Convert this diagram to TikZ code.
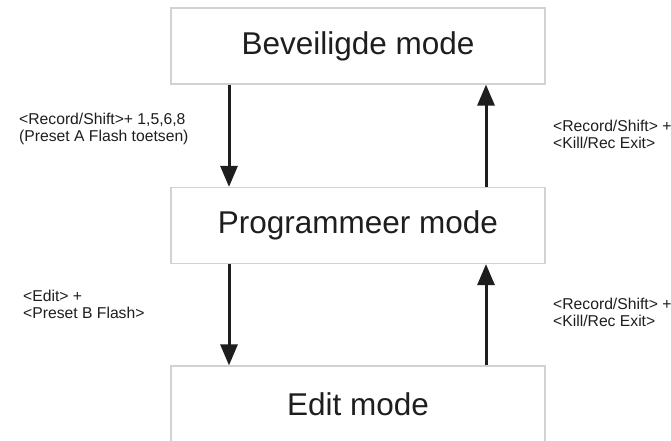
\documentclass[tikz,border=0pt]{standalone}
\usepackage{fontspec}
\setmainfont{Liberation Sans}
\usetikzlibrary{arrows.meta}
\definecolor{boxline}{HTML}{D2D2D2}
\definecolor{ink}{HTML}{1E1E1E}
\begin{document}
\begin{tikzpicture}[x=1pt,y=-1pt,
  modebox/.style={draw=boxline,line width=1.2pt,minimum width=374pt,minimum height=76pt,inner sep=0pt,text=ink,font=\fontsize{31.5}{36}\selectfont},
  lbl/.style={inner sep=0pt,align=left,text=ink,font=\fontsize{15.7}{17}\selectfont},
  flow/.style={draw=ink,line width=3pt,-{Triangle[length=21pt,width=17pt]}}]
\useasboundingbox[fill=white] (0,0) rectangle (671,441);
\begin{scope}
\clip (0,0) rectangle (671,441);
\node[modebox] (b1) at (358,46) {Beveiligde mode};
\node[modebox] (b2) at (358,225.5) {Programmeer mode};
\node[modebox] (b3) at (358,404) {Edit mode};
\end{scope}
\coordinate (xd) at (229,0);
\coordinate (xu) at (486,0);
\draw[flow] (b1.south -| xd) -- (b2.north -| xd);
\draw[flow] (b2.north -| xu) -- (b1.south -| xu);
\draw[flow] (b2.south -| xd) -- (b3.north -| xd);
\draw[flow] (b3.north -| xu) -- (b2.south -| xu);
\node[lbl,anchor=west] (l1) at (19,128.5) {<Record/Shift>+ 1,5,6,8\\(Preset A Flash toetsen)};
\node[lbl,anchor=west] (r1) at (553,134.5) {<Record/Shift> +\\<Kill/Rec Exit>};
\node[lbl,anchor=west] (l2) at (23,304.5) {<Edit> +\\<Preset B Flash>};
\node[lbl,anchor=west] (r2) at (553,312) {<Record/Shift> +\\<Kill/Rec Exit>};
\end{tikzpicture}
\end{document}
